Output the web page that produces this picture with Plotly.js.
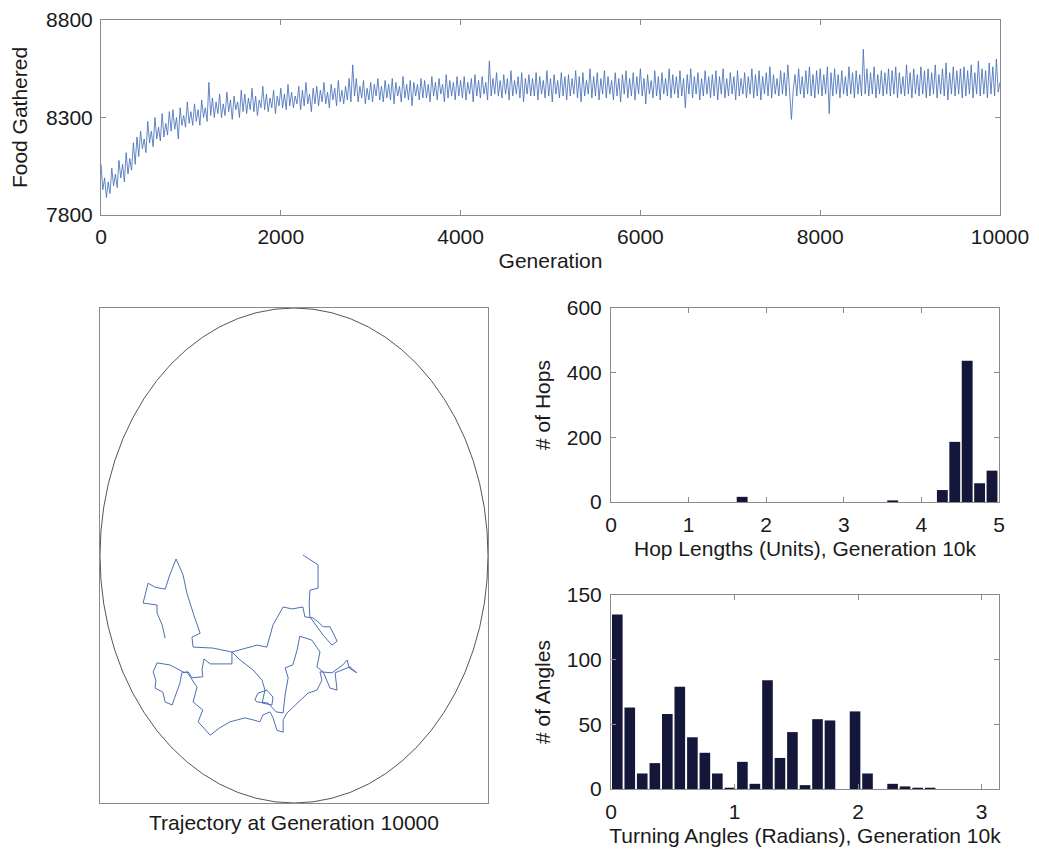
<!DOCTYPE html>
<html>
<head>
<meta charset="utf-8">
<script src="https://cdn.plot.ly/plotly-3.0.1.min.js"></script>
<style>html,body{margin:0;padding:0;background:#fff;}#chart{width:1039px;height:851px;}</style>
</head>
<body>
<div id="chart"></div>
<script>
// ---------- Top panel: food gathered per generation (sampled every 20 generations) ----------
const generationStep = 20;
const foodGathered = [
  8060, 7930, 7990, 7890, 7970, 7910, 8040, 7950, 8010, 7940, 8080, 7990, 8060, 7970, 8120, 8010, 8090, 8030, 8170, 8060,
  8200, 8100, 8230, 8140, 8190, 8120, 8280, 8170, 8230, 8150, 8300, 8190, 8250, 8180, 8320, 8200, 8270, 8210, 8330, 8230,
  8340, 8240, 8300, 8190, 8350, 8260, 8310, 8250, 8380, 8270, 8330, 8260, 8370, 8280, 8340, 8260, 8390, 8300, 8350, 8280,
  8480, 8310, 8400, 8300, 8380, 8320, 8420, 8300, 8370, 8310, 8430, 8330, 8390, 8290, 8410, 8340, 8380, 8300, 8440, 8330,
  8420, 8320, 8400, 8340, 8450, 8330, 8410, 8310, 8390, 8350, 8460, 8340, 8420, 8330, 8400, 8350, 8440, 8320, 8410, 8360,
  8450, 8350, 8420, 8340, 8470, 8360, 8430, 8350, 8410, 8370, 8460, 8340, 8440, 8360, 8480, 8370, 8420, 8330, 8450, 8370,
  8460, 8360, 8440, 8380, 8480, 8370, 8430, 8350, 8470, 8390, 8450, 8360, 8490, 8380, 8440, 8370, 8460, 8390, 8500, 8380,
  8570, 8410, 8500, 8380, 8460, 8400, 8490, 8370, 8450, 8390, 8480, 8380, 8470, 8410, 8500, 8390, 8460, 8380, 8490, 8400,
  8470, 8390, 8500, 8370, 8480, 8410, 8460, 8380, 8510, 8400, 8470, 8390, 8490, 8360, 8480, 8410, 8470, 8390, 8500, 8400,
  8490, 8400, 8470, 8380, 8510, 8410, 8480, 8390, 8500, 8420, 8470, 8380, 8520, 8400, 8490, 8410, 8480, 8390, 8510, 8410,
  8490, 8400, 8510, 8390, 8480, 8420, 8500, 8380, 8520, 8410, 8490, 8400, 8510, 8420, 8480, 8390, 8590, 8410, 8500, 8420,
  8530, 8410, 8490, 8400, 8520, 8420, 8500, 8390, 8540, 8410, 8490, 8420, 8510, 8400, 8530, 8380, 8500, 8420, 8520, 8410,
  8500, 8410, 8530, 8390, 8510, 8420, 8490, 8400, 8540, 8410, 8500, 8380, 8520, 8420, 8490, 8400, 8530, 8410, 8510, 8390,
  8520, 8410, 8500, 8420, 8540, 8400, 8510, 8380, 8530, 8410, 8490, 8420, 8550, 8400, 8510, 8410, 8530, 8390, 8500, 8420,
  8540, 8400, 8510, 8420, 8490, 8390, 8530, 8410, 8500, 8380, 8520, 8420, 8540, 8400, 8500, 8410, 8530, 8390, 8510, 8420,
  8550, 8410, 8500, 8370, 8520, 8420, 8490, 8400, 8540, 8410, 8510, 8390, 8530, 8420, 8500, 8410, 8550, 8400, 8520, 8420,
  8510, 8400, 8540, 8410, 8500, 8350, 8520, 8420, 8550, 8400, 8510, 8420, 8530, 8390, 8500, 8410, 8540, 8420, 8510, 8400,
  8520, 8410, 8540, 8390, 8510, 8420, 8550, 8400, 8500, 8410, 8530, 8420, 8510, 8390, 8540, 8410, 8500, 8420, 8530, 8400,
  8510, 8420, 8550, 8400, 8520, 8410, 8540, 8390, 8510, 8420, 8530, 8410, 8560, 8400, 8520, 8420, 8500, 8410, 8540, 8420,
  8530, 8410, 8570, 8400, 8290, 8440, 8520, 8410, 8550, 8420, 8510, 8400, 8540, 8420, 8560, 8410, 8520, 8400, 8540, 8420,
  8550, 8410, 8520, 8420, 8560, 8320, 8530, 8410, 8550, 8420, 8520, 8400, 8540, 8420, 8510, 8410, 8560, 8420, 8530, 8400,
  8540, 8420, 8520, 8410, 8650, 8420, 8550, 8410, 8530, 8420, 8560, 8400, 8520, 8420, 8540, 8410, 8530, 8420, 8550, 8410,
  8540, 8420, 8560, 8400, 8530, 8420, 8510, 8410, 8570, 8420, 8530, 8400, 8550, 8420, 8520, 8410, 8560, 8420, 8540, 8400,
  8550, 8410, 8530, 8420, 8570, 8400, 8520, 8420, 8550, 8410, 8580, 8390, 8530, 8420, 8560, 8410, 8540, 8420, 8550, 8400,
  8560, 8410, 8540, 8420, 8570, 8400, 8530, 8420, 8590, 8410, 8550, 8420, 8540, 8400, 8580, 8420, 8560, 8410, 8600, 8430,
  8480
];
const generation = foodGathered.map((_, i) => i * generationStep);
const genTickVals = [0, 2000, 4000, 6000, 8000, 10000];
const genTickText = ['0', '2000', '4000', '6000', '8000', '10000'];

// ---------- Trajectory at generation 10000 (arena radius 50) ----------
const arenaRadius = 50;
const trajX = [
  -33.2,-34.0,-35.3,-35.3,-38.9,-37.6,-35.8,-33.2,-32.0,-30.4,
  -28.6,-27.6,-26.0,-24.2,-26.3,-26.0,-20.9,-16.0,-16.0,-21.6,
  -23.2,-23.7,-23.5,-26.3,-27.3,-28.1,-32.0,-35.3,-36.3,-35.6,
  -35.8,-33.8,-33.2,-31.4,-30.7,-29.4,-28.9,-27.6,-25.0,-26.0,
  -23.5,-24.7,-21.6,-19.1,-16.5,-12.6,-10.6,-8.8,-8.0,-6.2,
  -5.4,-4.4,-2.8,-2.8,-1.8,0.8,3.6,5.9,7.2,6.7,
  9.8,12.6,13.7,14.2,16.2,14.4,10.6,11.1,9.3,7.5,
  5.9,6.7,4.6,1.5,0.8,-0.3,-2.3,-1.5,-2.3,-2.8,
  -4.6,-6.7,-9.5,-10.1,-9.3,-7.0,-5.4,-5.7,-8.2,-7.5,
  -8.2,-10.6,-13.9,-16.0,-9.5,-7.0,-5.4,-2.8,-0.5,2.3,
  2.8,4.9,6.2,7.5,9.3,11.1,9.8,7.5,5.7,4.1,
  3.9,4.1,6.2,6.2,2.3
];
const trajY = [
  -16.7,-14.0,-11.6,-10.0,-9.6,-5.6,-6.4,-6.8,-3.9,-0.7,
  -3.9,-7.6,-11.6,-15.7,-16.5,-18.5,-18.7,-19.5,-21.9,-21.9,
  -20.9,-23.1,-24.5,-24.7,-23.5,-23.7,-22.1,-21.7,-23.5,-25.2,
  -26.8,-27.6,-29.6,-30.2,-28.6,-25.8,-23.7,-23.5,-26.6,-29.6,
  -31.2,-33.6,-36.3,-34.8,-33.6,-32.8,-33.2,-33.6,-32.2,-31.6,
  -32.8,-35.3,-35.7,-33.2,-31.8,-29.8,-27.8,-27.2,-25.2,-23.5,
  -23.7,-22.1,-21.1,-22.7,-23.7,-22.5,-23.7,-27.2,-26.8,-23.5,
  -22.5,-19.5,-17.1,-16.3,-19.1,-22.1,-22.7,-24.7,-28.2,-31.8,
  -31.6,-29.8,-29.6,-29.2,-27.8,-27.2,-28.6,-30.2,-29.8,-27.2,
  -25.2,-23.1,-21.1,-19.5,-18.1,-18.5,-14.0,-10.4,-10.8,-10.4,
  -12.4,-12.6,-13.4,-14.4,-14.4,-17.3,-18.1,-16.1,-14.0,-12.4,
  -10.0,-7.0,-6.6,-1.9,0.1
];

// ---------- Hop length histogram ----------
const hopBinCenters = [1.69, 3.63, 4.27, 4.43, 4.59, 4.75, 4.91];
const hopCounts     = [16, 5, 37, 186, 437, 58, 97];

// ---------- Turning angle histogram ----------
const angleBinCenters = [
  0.051, 0.152, 0.253, 0.355, 0.456, 0.557, 0.659, 0.760, 0.861, 0.963,
  1.064, 1.165, 1.267, 1.368, 1.469, 1.571, 1.672, 1.773, 1.875, 1.976,
  2.077, 2.179, 2.280, 2.381, 2.483, 2.584, 2.685, 2.787, 2.888, 2.989, 3.091
];
const angleCounts = [
  135, 63, 12, 20, 58, 79, 40, 28, 12, 1,
  21, 4, 84, 24, 44, 3, 54, 53, 0, 60,
  12, 0, 4, 2, 1, 1, 0, 0, 0, 0, 0
];

// ---------- Drawing ----------
const W = 1039, H = 851;
const px = v => v / W;
const py = v => (H - v) / H;
const FONT = {family: 'Arial, "Liberation Sans", sans-serif', size: 21, color: '#1a1a1a'};
const AXC = '#8a8a8a';
const barColor = '#15173a';

function axisBase(extra) {
  return Object.assign({
    showline: true, mirror: 'ticks', linecolor: AXC, linewidth: 1,
    ticks: 'inside', ticklen: 5, tickcolor: AXC, tickwidth: 1,
    showgrid: false, zeroline: false, tickfont: FONT, fixedrange: true,
    ticklabelstandoff: 4
  }, extra);
}

const traces = [
  {
    type: 'scatter', mode: 'lines', x: generation, y: foodGathered,
    xaxis: 'x', yaxis: 'y',
    line: {color: '#3d6ab5', width: 0.8}, hoverinfo: 'skip'
  },
  {
    type: 'scatter', mode: 'lines', x: trajX, y: trajY,
    xaxis: 'x2', yaxis: 'y2',
    line: {color: '#4b70b3', width: 1}, hoverinfo: 'skip'
  },
  {
    type: 'bar', x: hopBinCenters, y: hopCounts, width: 0.14,
    xaxis: 'x3', yaxis: 'y3',
    marker: {color: barColor, line: {width: 0}}
  },
  {
    type: 'bar', x: angleBinCenters, y: angleCounts, width: 0.086,
    xaxis: 'x4', yaxis: 'y4',
    marker: {color: barColor, line: {width: 0}}
  }
];

const layout = {
  width: W, height: H,
  margin: {l: 0, r: 0, t: 0, b: 0},
  paper_bgcolor: '#ffffff', plot_bgcolor: '#ffffff',
  showlegend: false, font: FONT,
  xaxis: axisBase({
    domain: [px(101), px(1000)], range: [0, 10000], anchor: 'y',
    tickvals: genTickVals, ticktext: genTickText,
    ticklabelstandoff: 3,
    title: {text: 'Generation', font: FONT, standoff: 6}
  }),
  yaxis: axisBase({
    domain: [py(215), py(20)], range: [7800, 8800], anchor: 'x',
    tickvals: [7800, 8300, 8800],
    ticklabelstandoff: 3,
    title: {text: 'Food Gathered', font: FONT, standoff: 12}
  }),
  xaxis2: axisBase({
    domain: [px(100), px(488)], range: [-arenaRadius, arenaRadius], anchor: 'y2',
    ticks: '', showticklabels: false, mirror: true,
    title: {text: 'Trajectory at Generation 10000', font: FONT, standoff: 12}
  }),
  yaxis2: axisBase({
    domain: [py(803), py(308)], range: [-arenaRadius, arenaRadius], anchor: 'x2',
    ticks: '', showticklabels: false, mirror: true
  }),
  xaxis3: axisBase({
    domain: [px(611), px(999)], range: [0, 5], anchor: 'y3',
    tickvals: [0, 1, 2, 3, 4, 5],
    ticklabelstandoff: 4,
    title: {text: 'Hop Lengths (Units), Generation 10k', font: FONT, standoff: 6}
  }),
  yaxis3: axisBase({
    domain: [py(502), py(308)], range: [0, 600], anchor: 'x3',
    tickvals: [0, 200, 400, 600],
    title: {text: '# of Hops', font: FONT, standoff: 10}
  }),
  xaxis4: axisBase({
    domain: [px(611), px(999)], range: [0, Math.PI], anchor: 'y4',
    tickvals: [0, 1, 2, 3],
    ticklabelstandoff: 4,
    title: {text: 'Turning Angles (Radians), Generation 10k', font: FONT, standoff: 6}
  }),
  yaxis4: axisBase({
    domain: [py(789), py(595)], range: [0, 150], anchor: 'x4',
    tickvals: [0, 50, 100, 150],
    title: {text: '# of Angles', font: FONT, standoff: 10}
  }),
  shapes: [
    {
      type: 'circle', xref: 'x2', yref: 'y2', layer: 'below',
      x0: -arenaRadius, x1: arenaRadius, y0: -arenaRadius, y1: arenaRadius,
      line: {color: '#5a5550', width: 1}
    }
  ]
};

Plotly.newPlot('chart', traces, layout, {displayModeBar: false, staticPlot: true});
</script>
</body>
</html>
